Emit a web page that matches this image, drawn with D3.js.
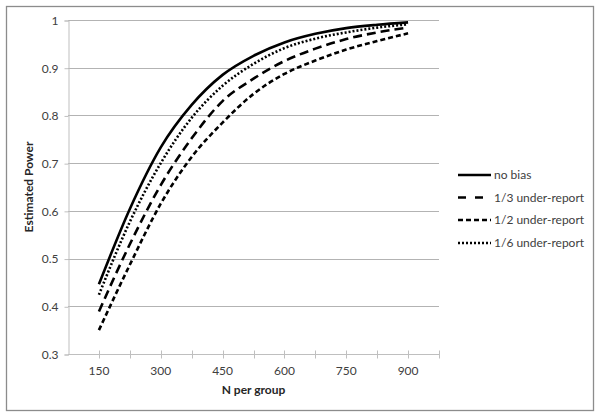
<!DOCTYPE html>
<html>
<head>
<meta charset="utf-8">
<script src="https://cdn.jsdelivr.net/npm/d3@7"></script>
<style>
  html, body { margin: 0; padding: 0; background: #fff; }
  svg text { font-family: Lato, "Open Sans", sans-serif; fill: #404040; }
</style>
</head>
<body>
<svg id="chart" width="600" height="418"></svg>
<script>
const nPerGroup = [150, 225, 300, 375, 450, 525, 600, 675, 750, 825, 900];
const noBias    = [0.446, 0.604, 0.733, 0.822, 0.885, 0.925, 0.953, 0.971, 0.983, 0.990, 0.995];
const oneThird  = [0.389, 0.530, 0.654, 0.752, 0.830, 0.877, 0.914, 0.940, 0.960, 0.974, 0.984];
const oneHalf   = [0.350, 0.487, 0.615, 0.713, 0.785, 0.845, 0.887, 0.915, 0.938, 0.956, 0.972];
const oneSixth  = [0.424, 0.577, 0.700, 0.795, 0.862, 0.908, 0.941, 0.961, 0.974, 0.984, 0.991];
const seriesNames = ["no bias", "1/3 under-report", "1/2 under-report", "1/6 under-report"];
const xTickLabels = [150, 300, 450, 600, 750, 900];
const yTickLabels = [0.3, 0.4, 0.5, 0.6, 0.7, 0.8, 0.9, 1];

const seriesValues = [noBias, oneThird, oneHalf, oneSixth];
const dashes = [null, "9,5", "5,3", "2,2"];

const svg = d3.select("#chart");

// outer border
svg.append("rect").attr("x", 6.5).attr("y", 6.5).attr("width", 587).attr("height", 404)
  .attr("fill", "#fff").attr("stroke", "#8c8c8c").attr("stroke-width", 1.3);

const pLeft = 68, pRight = 439, pTop = 20, pBottom = 354;
const x = d3.scaleLinear().domain([75, 975]).range([pLeft, pRight]);
const y = d3.scaleLinear().domain([0.3, 1]).range([pBottom, pTop]);

// gridlines
svg.append("g").selectAll("line").data(yTickLabels.filter(v => v > 0.3)).join("line")
  .attr("x1", pLeft).attr("x2", pRight)
  .attr("y1", d => Math.round(y(d)) + 0.5).attr("y2", d => Math.round(y(d)) + 0.5)
  .attr("stroke", "#b3b3b3").attr("stroke-width", 1);

// y axis
const yAxis = d3.axisLeft(y).tickValues(yTickLabels).tickSize(4).tickPadding(6)
  .tickFormat(d => d === 1 ? "1" : d3.format(".1f")(d));
const gy = svg.append("g").attr("transform", `translate(${pLeft + 0.5},0.5)`).call(yAxis);
gy.select(".domain").attr("stroke", "#bfbfbf");
gy.selectAll(".tick line").attr("stroke", "#bfbfbf");
gy.selectAll(".tick text").attr("font-size", 12).style("fill", "#404040")
  .attr("font-family", "Lato, 'Open Sans', sans-serif");

// x axis line
const gx = svg.append("g").attr("transform", `translate(0,${pBottom + 0.5})`);
gx.append("line").attr("x1", pLeft).attr("x2", pRight).attr("stroke", "#bfbfbf");
const xTickPos = d3.range(150, 976, 75);
gx.selectAll("line.tk").data(xTickPos).join("line").attr("class", "tk")
  .attr("x1", d => Math.round(x(d)) + 0.5).attr("x2", d => Math.round(x(d)) + 0.5)
  .attr("y1", -4).attr("y2", 4).attr("stroke", "#bfbfbf");
gx.selectAll("text").data(xTickLabels).join("text")
  .attr("x", d => x(d)).attr("y", 20).attr("text-anchor", "middle")
  .attr("font-size", 12).text(d => d);

// titles
svg.append("text").attr("x", (pLeft + pRight) / 2).attr("y", 394).attr("text-anchor", "middle")
  .attr("font-size", 12).attr("font-weight", "bold").style("fill", "#262626").text("N per group");
svg.append("text").attr("transform", `translate(33,${(pTop + pBottom) / 2}) rotate(-90)`)
  .attr("text-anchor", "middle").attr("font-size", 12).attr("font-weight", "bold")
  .style("fill", "#262626").text("Estimated Power");

// lines
const line = d3.line().x(d => x(d[0])).y(d => y(d[1])).curve(d3.curveMonotoneX);
seriesValues.forEach((vals, i) => {
  svg.append("path")
    .datum(nPerGroup.map((n, j) => [n, vals[j]]))
    .attr("d", line).attr("fill", "none").attr("stroke", "#000")
    .attr("stroke-width", 2.6)
    .attr("stroke-dasharray", dashes[i]);
});

// legend
const legY = [175, 197.5, 220, 243];
const legDash = [null, "8,9", "5,3", "2,2"];
seriesNames.forEach((name, i) => {
  svg.append("line").attr("x1", 458).attr("x2", 491).attr("y1", legY[i]).attr("y2", legY[i])
    .attr("stroke", "#000").attr("stroke-width", 2.6).attr("stroke-dasharray", legDash[i]);
  svg.append("text").attr("x", 494).attr("y", legY[i] + 4).attr("font-size", 12)
    .style("fill", "#404040").text(name);
});
</script>
</body>
</html>
